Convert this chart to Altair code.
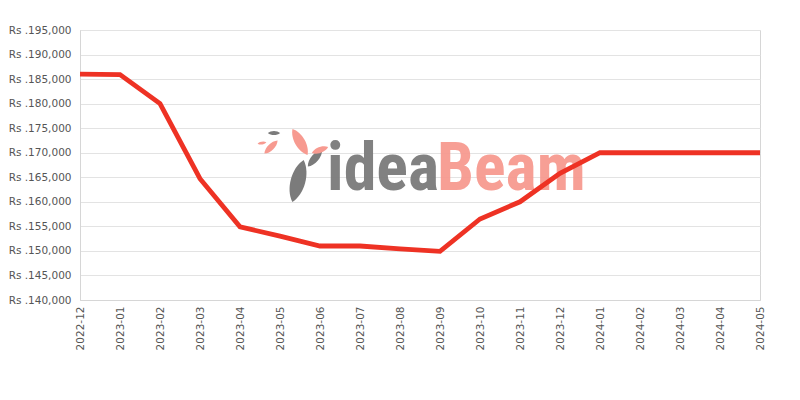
import altair as alt
import pandas as pd

months = ["2022-12", "2023-01", "2023-02", "2023-03", "2023-04", "2023-05",
          "2023-06", "2023-07", "2023-08", "2023-09", "2023-10", "2023-11",
          "2023-12", "2024-01", "2024-02", "2024-03", "2024-04", "2024-05"]
prices = [186000, 185900, 180000, 164700, 154900, 153000,
          151000, 151000, 150400, 149900, 156500, 160000,
          165800, 170000, 170000, 170000, 170000, 170000]

df = pd.DataFrame({"month": months, "price": prices})

x = alt.X("month:O", sort=months,
          scale=alt.Scale(type="point", padding=0),
          axis=alt.Axis(title=None, labelAngle=-90, labelColor="#555555",
                        labelFontSize=10.5, labelFont="DejaVu Sans",
                        ticks=False, domainColor="#d6d6d6", labelPadding=6,
                        grid=False))
y = alt.Y("price:Q", scale=alt.Scale(domain=[140000, 195000], nice=False),
          axis=alt.Axis(title=None, values=list(range(140000, 195001, 5000)),
                        labelExpr="'Rs .' + format(datum.value, ',')",
                        labelColor="#555555", labelFontSize=10.5,
                        labelFont="DejaVu Sans", ticks=False,
                        domainColor="#d6d6d6", gridColor="#e3e3e3",
                        labelPadding=9))

wm = pd.DataFrame({"a": [1]})
wfont = "Liberation Sans Narrow, Roboto Condensed, Roboto"
idea = alt.Chart(wm).mark_text(text="idea", font=wfont, fontSize=66,
                               fontWeight="bold", color="#7b7b7b", align="left",
                               baseline="alphabetic", opacity=0.95).encode(
    x=alt.value(247), y=alt.value(160))
beam = alt.Chart(wm).mark_text(text="Beam", font=wfont, fontSize=66,
                               fontWeight="bold", color="#f79a90", align="left",
                               baseline="alphabetic", opacity=0.95).encode(
    x=alt.value(357), y=alt.value(160))

leaf = "M0,-1 C0.45,-0.5 0.45,0.5 0,1 C-0.45,0.5 -0.45,-0.5 0,-1Z"


def feather(px, py, size, angle, color):
    return alt.Chart(wm).mark_point(shape=leaf, filled=True, size=size,
                                    angle=angle, color=color, opacity=1,
                                    strokeWidth=0).encode(
        x=alt.value(px), y=alt.value(py))


bird = [
    feather(218, 151, 1900, 15, "#7b7b7b"),   # grey tail feather
    feather(235, 128, 500, 40, "#7b7b7b"),    # grey wing
    feather(220, 112, 900, 150, "#f79a90"),   # salmon body
    feather(240, 120, 300, 70, "#f79a90"),    # beak side
    feather(194, 103, 150, 90, "#7b7b7b"),    # small grey
    feather(191, 117, 350, 45, "#f79a90"),    # small salmon
    feather(182, 113, 80, 80, "#f79a90"),     # tiny salmon
]

line = alt.Chart(df).mark_line(color="#ee3224", strokeWidth=4.8).encode(x=x, y=y)

chart = alt.layer(*bird, idea, beam, line).properties(
    width=680, height=270,
    autosize=alt.AutoSizeParams(type="none"),
    padding={"left": 72, "top": 22, "right": 32, "bottom": 80},
).configure_view(stroke="#d6d6d6", strokeWidth=1)

chart.save("out.html", embed_options={"renderer": "svg", "actions": False})
